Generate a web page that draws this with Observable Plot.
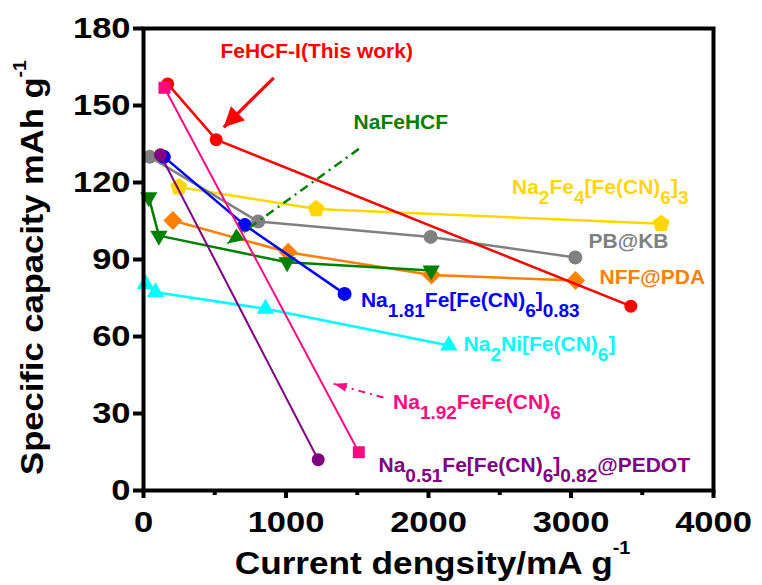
<!DOCTYPE html>
<html><head><meta charset="utf-8">
<script src="https://cdn.jsdelivr.net/npm/d3@7"></script>
<script src="https://cdn.jsdelivr.net/npm/@observablehq/plot@0.6"></script>
<style>
body{margin:0;background:#fff}
#chart{width:762px;height:585px}
</style>
</head><body><div id="chart"></div>
<script>
const NS = "http://www.w3.org/2000/svg";

// ---------- data ----------
const xTicks = [0, 1000, 2000, 3000, 4000];
const xMinorTicks = [500, 1500, 2500, 3500];
const yTicks = [0, 30, 60, 90, 120, 150, 180];

const fehcfX = [170, 510, 3420];
const fehcfY = [158.4, 136.7, 71.8];
const nafehcfX = [37, 108, 1008, 2019];
const nafehcfY = [114.3, 99.3, 88.9, 85.7];
const na2fe4X = [248, 1212, 3633];
const na2fe4Y = [118.2, 109.7, 103.9];
const pbkbX = [44, 805, 2015, 3030];
const pbkbY = [130.0, 104.8, 98.8, 90.8];
const nffX = [206, 1015, 2021, 3032];
const nffY = [105.2, 92.8, 84.0, 81.8];
const na181X = [143, 711, 1411];
const na181Y = [130.0, 103.4, 76.6];
const na2niX = [14, 84, 856, 2143];
const na2niY = [80.5, 77.2, 70.8, 56.5];
const na192X = [147, 1511];
const na192Y = [156.9, 14.9];
const na051X = [119, 1226];
const na051Y = [130.8, 12.0];

const labelTexts = [
  "FeHCF-I(This work)",
  "NaFeHCF",
  "Na_{2}Fe_{4}[Fe(CN)_{6}]_{3}",
  "PB@KB",
  "NFF@PDA",
  "Na_{1.81}Fe[Fe(CN)_{6}]_{0.83}",
  "Na_{2}Ni[Fe(CN)_{6}]",
  "Na_{1.92}FeFe(CN)_{6}",
  "Na_{0.51}Fe[Fe(CN)_{6}]_{0.82}@PEDOT"
];
const labelX = [540, 1474, 2586, 3123, 3200, 1526, 2246, 1751, 1649];
const labelY = [168.4, 140.9, 115.6, 94.5, 80.5, 71.4, 54.5, 31.8, 7.2];

// annotation arrows (start -> tip)
const arrowX1 = [914, 1511, 1684];
const arrowY1 = [160.8, 133.1, 36.2];
const arrowX2 = [563, 589, 1335];
const arrowY2 = [141.5, 96.2, 41.6];

const xTitle = "Current dengsity/mA g^{-1}";
const yTitle = "Specific capacity mAh g^{-1}";

// ---------- styles ----------
const C = {
  red: "#FF0000", green: "#008000", yellow: "#FFD700", gray: "#808080",
  orange: "#FF8000", blue: "#0000FF", cyan: "#00FFFF", pink: "#FF0A80", purple: "#800080"
};
const labelColors = [C.red, C.green, C.yellow, C.gray, C.orange, C.blue, C.cyan, C.pink, C.purple];
const arrowColors = [C.red, C.green, C.pink];

// custom symbols: half-extent R = sqrt(size/PI)
const R = s => Math.sqrt(s / Math.PI);
const poly = (ctx, pts) => { pts.forEach(([a, b], i) => i ? ctx.lineTo(a, b) : ctx.moveTo(a, b)); ctx.closePath(); };
const ngon = (n, start) => ({ draw(ctx, size) { const r = R(size); const pts = []; for (let k = 0; k < n; k++) { const a = start + k * 2 * Math.PI / n; pts.push([r * Math.cos(a), r * Math.sin(a)]); } poly(ctx, pts); } });
const symPentagon = ngon(5, -Math.PI / 2);
const symTriUp = ngon(3, -Math.PI / 2);
const symTriDown = ngon(3, Math.PI / 2);
const symDiamond = ngon(4, -Math.PI / 2);
const symSquare = { draw(ctx, size) { const r = R(size); poly(ctx, [[-r, -r], [r, -r], [r, r], [-r, r]]); } };
const symCircle = { draw(ctx, size) { const r = R(size); ctx.moveTo(r, 0); ctx.arc(0, 0, r, 0, 2 * Math.PI); ctx.closePath(); } };

const seriesDefs = [
  { xs: na2niX, ys: na2niY, color: C.cyan, symbol: symTriUp, r: 10, sw: 2.5 },
  { xs: nffX, ys: nffY, color: C.orange, symbol: symDiamond, r: 9.5, sw: 2.5 },
  { xs: nafehcfX, ys: nafehcfY, color: C.green, symbol: symTriDown, r: 10, sw: 2.5 },
  { xs: na2fe4X, ys: na2fe4Y, color: C.yellow, symbol: symPentagon, r: 9, sw: 2.5 },
  { xs: pbkbX, ys: pbkbY, color: C.gray, symbol: symCircle, r: 7, sw: 2.5 },
  { xs: na181X, ys: na181Y, color: C.blue, symbol: symCircle, r: 7, sw: 2.5 },
  { xs: fehcfX, ys: fehcfY, color: C.red, symbol: symCircle, r: 6.5, sw: 2.5 },
  { xs: na051X, ys: na051Y, color: C.purple, symbol: symCircle, r: 6.5, sw: 2 },
  { xs: na192X, ys: na192Y, color: C.pink, symbol: symSquare, r: 6, sw: 2 }
];
const arrowStyles = [
  { sw: 3.2, dash: null, len: 20, wid: 20 },
  { sw: 2.5, dash: "9,5,2,5", len: 16, wid: 14 },
  { sw: 2, dash: "7,5,2,5", len: 13, wid: 9 }
];

function headMarker(len, wid) {
  return (color, context) => {
    const doc = (context && context.document) || document;
    const m = doc.createElementNS(NS, "marker");
    m.setAttribute("viewBox", `${-len} ${-wid / 2} ${len} ${wid}`);
    m.setAttribute("markerUnits", "userSpaceOnUse");
    m.setAttribute("markerWidth", len);
    m.setAttribute("markerHeight", wid);
    m.setAttribute("refX", 0);
    m.setAttribute("refY", 0);
    m.setAttribute("orient", "auto");
    m.setAttribute("overflow", "visible");
    const p = doc.createElementNS(NS, "path");
    p.setAttribute("d", `M0,0L${-len},${-wid / 2}L${-len},${wid / 2}Z`);
    p.setAttribute("fill", color);
    p.setAttribute("stroke", "none");
    p.setAttribute("stroke-dasharray", "none");
    m.appendChild(p);
    return m;
  };
}

const marks = [];
seriesDefs.forEach(s => {
  const rows = s.xs.map((x, i) => ({ x, y: s.ys[i] }));
  marks.push(Plot.line(rows, { x: "x", y: "y", stroke: s.color, strokeWidth: s.sw, curve: "linear" }));
  marks.push(Plot.dot(rows, { x: "x", y: "y", symbol: s.symbol, r: s.r, fill: s.color, stroke: "none" }));
});
arrowX1.forEach((x1, i) => {
  const st = arrowStyles[i];
  marks.push(Plot.link([{ x1, y1: arrowY1[i], x2: arrowX2[i], y2: arrowY2[i] }], {
    x1: "x1", y1: "y1", x2: "x2", y2: "y2", stroke: arrowColors[i], strokeWidth: st.sw,
    strokeDasharray: st.dash || undefined, markerEnd: headMarker(st.len, st.wid)
  }));
});
const labelRows = labelTexts.map((t, i) => ({ t, x: labelX[i], y: labelY[i], c: labelColors[i] }));
marks.push(Plot.text(labelRows, { x: "x", y: "y", text: "t", fill: "c", textAnchor: "start", lineAnchor: "bottom", fontSize: 21, fontWeight: "bold" }));

marks.push(Plot.axisX(xMinorTicks, { tickSize: 5, strokeWidth: 4, tickFormat: () => "", label: null }));
marks.push(Plot.axisX({ ticks: xTicks, tickSize: 8, tickPadding: 12, strokeWidth: 4, fontSize: 30, fontWeight: "bold", fill: "#000", tickFormat: d => String(d), label: null }));
marks.push(Plot.axisY({ ticks: yTicks, tickSize: 10, tickPadding: 3, strokeWidth: 4, fontSize: 30, fontWeight: "bold", fill: "#000", tickFormat: d => String(d), label: null }));
marks.push(Plot.frame({ stroke: "#000", strokeWidth: 4 }));
marks.push(Plot.text([xTitle], { frameAnchor: "bottom", dy: 83, dx: 4, lineAnchor: "bottom", textAnchor: "middle", fontSize: 32, fontWeight: "bold", fill: "#000" }));
marks.push(Plot.text([yTitle], { frameAnchor: "left", rotate: -90, dx: -101, dy: 8, lineAnchor: "bottom", textAnchor: "middle", fontSize: 32, fontWeight: "bold", fill: "#000" }));

const chart = Plot.plot({
  width: 762, height: 585,
  marginLeft: 143, marginRight: 49, marginTop: 28, marginBottom: 95,
  x: { domain: [0, 4000], axis: null },
  y: { domain: [0, 180], axis: null },
  style: { fontFamily: "'Liberation Sans', Arial, sans-serif", fontWeight: "bold", background: "#fff", overflow: "visible" },
  marks
});
document.getElementById("chart").appendChild(chart);

// ---------- rich text (sub/superscripts) ----------
function richify(el, subSize, subShift, supSize, supShift) {
  const s = el.textContent;
  if (!/[_^]\{/.test(s)) return;
  const re = /([_^])\{([^}]*)\}|([^_^]+)/g;
  while (el.firstChild) el.removeChild(el.firstChild);
  let shift = 0, m;
  while ((m = re.exec(s))) {
    const t = document.createElementNS(NS, "tspan");
    let target = 0;
    if (m[1] === "_") { target = subShift; t.setAttribute("font-size", subSize); t.textContent = m[2]; }
    else if (m[1] === "^") { target = -supShift; t.setAttribute("font-size", supSize); t.textContent = m[2]; }
    else { target = 0; t.textContent = m[3]; }
    if (target !== shift) t.setAttribute("dy", target - shift);
    shift = target;
    el.appendChild(t);
  }
}
const svg = chart.tagName.toLowerCase() === "svg" ? chart : chart.querySelector("svg");
const stretchEl = (el, k) => el.setAttribute("transform", (el.getAttribute("transform") || "") + ` scale(${k},1)`);
svg.querySelectorAll("text").forEach(el => {
  const s = el.textContent;
  if (s === xTitle) { richify(el, 18, 10, 18, 20); stretchEl(el, 1.1); }
  else if (s === yTitle) { richify(el, 18, 10, 18, 17); stretchEl(el, 1.08); }
  else if (labelTexts.includes(s)) richify(el, 19, 10, 19, 10);
});
svg.querySelectorAll('g[aria-label="x-axis tick label"] text').forEach(el => stretchEl(el, 1.15));
svg.querySelectorAll('g[aria-label="y-axis tick label"] text').forEach(el => stretchEl(el, 1.15));
</script></body></html>
